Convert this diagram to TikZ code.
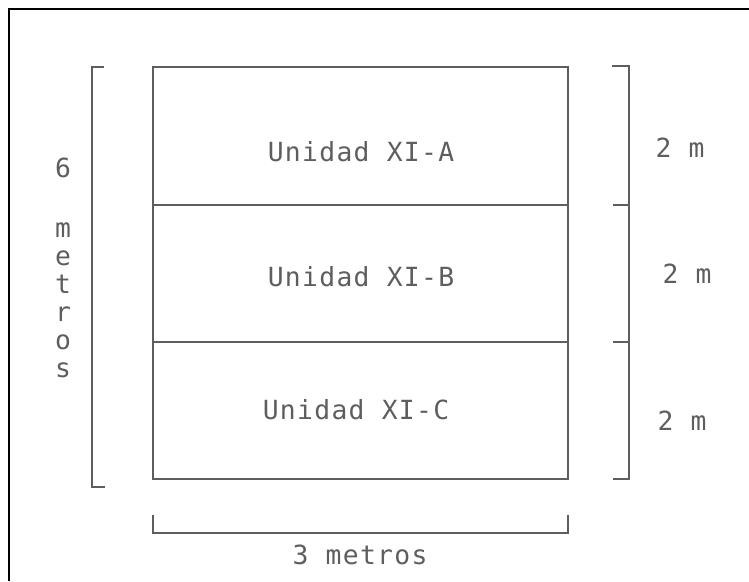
\documentclass[tikz,border=0pt]{standalone}
\usepackage{fontspec}
\newfontfamily\plotfont[LetterSpace=5]{DejaVu Sans Mono}
\definecolor{plotgray}{HTML}{5E5E5E}

\begin{document}
\begin{tikzpicture}[x = 0.02cm, y = -0.02cm]
\tikzstyle{LineStyle}=[draw = plotgray,
                       line width = 1.1pt]
\tikzstyle{LabelStyle}=[text = plotgray,
                        inner sep = 0pt,
                        font = \plotfont\fontsize{15}{15.9}\selectfont]
\useasboundingbox (0,0) rectangle (749,581);
% frame
\draw[line width = 1.3pt] (9,581) -- (9,9) -- (749,9);
% plot of the three units
\coordinate (a1) at (153,67);
\coordinate (a2) at (568,67);
\coordinate (b1) at (153,205);
\coordinate (b2) at (568,205);
\coordinate (c1) at (153,342);
\coordinate (c2) at (568,342);
\coordinate (d1) at (153,479);
\coordinate (d2) at (568,479);
\draw[LineStyle] (a1) -- (a2) -- (d2) -- (d1) -- cycle;
\draw[LineStyle] (b1) -- (b2);
\draw[LineStyle] (c1) -- (c2);
\node[LabelStyle] (uA) at (361,152) {Unidad XI-A};
\node[LabelStyle] (uB) at (361,277) {Unidad XI-B};
\node[LabelStyle] (uC) at (356,410) {Unidad XI-C};
% left bracket
\coordinate (l1) at (104,67);
\coordinate (l2) at (92,67);
\coordinate (l3) at (92,487);
\coordinate (l4) at (105,487);
\draw[LineStyle] (l1) -- (l2) -- (l3) -- (l4);
\node[LabelStyle] (six) at (63,168) {6};
\node[LabelStyle, align = center] (met) at (63,300) {m\\e\\t\\r\\o\\s};
% right bracket
\coordinate (r1) at (612,66);
\coordinate (r2) at (629,66);
\coordinate (r3) at (629,479);
\coordinate (r4) at (613,479);
\coordinate (r5) at (613,205);
\coordinate (r6) at (629,205);
\coordinate (r7) at (613,342);
\coordinate (r8) at (629,342);
\draw[LineStyle] (r1) -- (r2) -- (r3) -- (r4);
\draw[LineStyle] (r5) -- (r6);
\draw[LineStyle] (r7) -- (r8);
\node[LabelStyle] (mA) at (680,148) {2 m};
\node[LabelStyle] (mB) at (687,274) {2 m};
\node[LabelStyle] (mC) at (682,421) {2 m};
% bottom bracket
\coordinate (w1) at (153,515);
\coordinate (w2) at (153,533);
\coordinate (w3) at (568,533);
\coordinate (w4) at (568,515);
\draw[LineStyle] (w1) -- (w2) -- (w3) -- (w4);
\node[LabelStyle] (tres) at (360,555) {3 metros};
\end{tikzpicture}
\end{document}
